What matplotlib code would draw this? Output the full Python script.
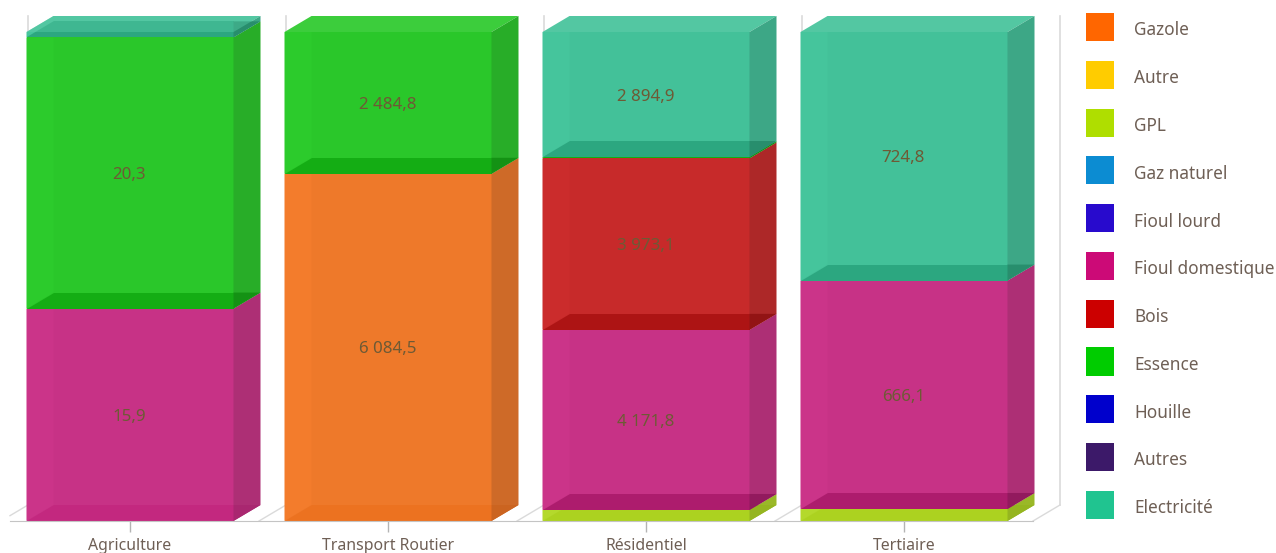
import matplotlib
matplotlib.use("Agg")
import matplotlib.pyplot as plt
from matplotlib.patches import Patch, Polygon
from matplotlib.colors import to_rgb
import numpy as np

categories = ["Agriculture", "Transport Routier", "Résidentiel", "Tertiaire"]

# values per category, in legend order (small ones)
gazole = [0, 6084.5, 0, 0]
autre = [0, 0, 0, 0]
gpl = [0, 0, 255, 35]
gaz_naturel = [0, 0, 0, 0]
fioul_lourd = [0, 0, 0, 0]
fioul_domestique = [15.9, 0, 4171.8, 666.1]
bois = [0, 0, 3973.1, 0]
essence = [20.3, 2484.8, 30, 0]
houille = [0, 0, 0, 0]
autres = [0, 0, 0, 0]
electricite = [0.4, 0, 2894.9, 724.8]

series = [gazole, autre, gpl, gaz_naturel, fioul_lourd, fioul_domestique,
          bois, essence, houille, autres, electricite]
names = ["Gazole", "Autre", "GPL", "Gaz naturel", "Fioul lourd", "Fioul domestique",
         "Bois", "Essence", "Houille", "Autres", "Electricité"]
colors = ["#ff6600", "#ffcc00", "#afde00", "#0c8cd2", "#280acd", "#cc0a77",
          "#cc0000", "#00cc00", "#0000cc", "#3c1969", "#20c490"]

W, H = 1276, 553
PLOT_LEFT, PLOT_RIGHT, PLOT_BOTTOM, PLOT_TOP = 1, 1033, 521, 32
BAR_WIDTH = 207 / 258
DX = 27 / 258  # depth of the fake 3d, in axis units
DY = 16 / 489
TEXT = "#6e5f55"


def mix(c, a, g):
    return tuple(np.clip(np.array(to_rgb(c)) * a + g / 255, 0, 1))


def poly(ax, pts, color, alpha=1.0, z=2):
    ax.add_patch(Polygon(pts, closed=True, facecolor=color, edgecolor="none",
                         alpha=alpha, zorder=z, clip_on=False))


def draw_segment(ax, x, y0, y1, c, is_top, z):
    x0 = x - BAR_WIDTH / 2
    x1 = x + BAR_WIDTH / 2
    top = [(x0, y1), (x1, y1), (x1 + DX, y1 + DY), (x0 + DX, y1 + DY)]
    if is_top:
        poly(ax, top, mix(c, .71, 60), z=z)
    # front and the see-through inner faces
    poly(ax, [(x0, y0), (x1, y0), (x1, y1), (x0, y1)], mix(c, .77, 42), z=z)
    poly(ax, [(x0, y0), (x0 + DX, y0 + DY), (x0 + DX, y1), (x0, y1)], mix(c, .78, 44), z=z)
    # right side
    poly(ax, [(x1, y0), (x1 + DX, y0 + DY), (x1 + DX, y1 + DY), (x1, y1)], mix(c, .65, 40), z=z)
    # floor of the segment, visible through the front; paler on the white ground
    a, g = (.80, 32) if y0 == 0 else (.75, 20)
    poly(ax, [(x0, y0), (x1, y0), (x1, y0 + DY), (x0 + DX, y0 + DY)], mix(c, a, g), z=z)
    poly(ax, [(x1, y0), (x1 + DX, y0 + DY), (x1, y0 + DY)], mix(c, a - .13, g), z=z)
    # thin segment: the lid overlaps its own floor
    if is_top and y1 - y0 < DY:
        poly(ax, top, mix(c, .71, 60), alpha=.5, z=z)


fig = plt.figure(figsize=(W / 100, H / 100), dpi=100)
plt.rcParams["font.family"] = ["Noto Sans", "DejaVu Sans"]
ax = fig.add_axes([PLOT_LEFT / W, (H - PLOT_BOTTOM) / H,
                   (PLOT_RIGHT - PLOT_LEFT) / W, (PLOT_BOTTOM - PLOT_TOP) / H])
ax.set_xlim(-0.5, len(categories) - 0.5)
ax.set_ylim(0, 1)

# back wall lines
edges = np.arange(len(categories) + 1) - 0.5
for e in edges:
    start = e + DX / 3 if e == edges[0] else e
    ystart = DY / 3 if e == edges[0] else 0
    ax.plot([start, e + DX], [ystart, DY], color="#dadada", lw=1, clip_on=False, zorder=1)
    ax.plot([e + DX, e + DX], [DY, 1 + DY], color="#dadada", lw=1.2, clip_on=False, zorder=1)

values = np.array(series, dtype=float)
totals = values.sum(axis=0)
for j, x in enumerate(range(len(categories))):
    bottom = 0
    visible = [i for i in range(len(series)) if values[i, j] > 0]
    for i in visible:
        share = values[i, j] / totals[j]
        draw_segment(ax, x, bottom, bottom + share, colors[i], i == visible[-1], 2 + i)
        if share > 0.1:
            label = f"{values[i, j]:,.1f}".replace(",", " ").replace(".", ",")
            ax.annotate(label, (x, bottom + share / 2), xytext=(-0.5, -1.5),
                        textcoords="offset points", ha="center", va="center",
                        fontsize=12.2, color="#6e5a35", zorder=20)
        bottom += share

ax.set_xticks(range(len(categories)))
ax.set_xticklabels(categories, fontsize=11.4, color=TEXT)
ax.tick_params(axis="x", length=8, width=1, color="#b4b4b4", pad=4)
ax.set_yticks([])
for s in ["top", "left", "right"]:
    ax.spines[s].set_visible(False)
ax.spines["bottom"].set_color("#c4c4c4")
ax.spines["bottom"].set_bounds(-0.5 + 9 / 258, 3.5)
ax.spines["bottom"].set_zorder(30)
ax.patch.set_visible(False)

handles = [Patch(facecolor=c, edgecolor="none") for c in colors]
leg = fig.legend(handles, names, loc="upper left", bbox_to_anchor=(1086 / W, 1 - 13 / H),
                 frameon=False, fontsize=12.4, handlelength=1.65, handleheight=2.13,
                 handletextpad=1.2, labelspacing=1.145, borderaxespad=0, borderpad=0,
                 labelcolor=TEXT)
# text sits a little lower next to the squares
for t in leg.get_texts():
    t.set_position((-1, -3))

fig.savefig("out.png", dpi=100)
